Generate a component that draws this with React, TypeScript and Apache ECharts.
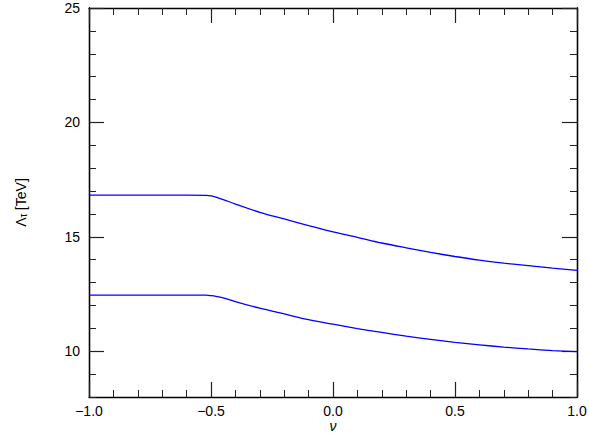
import React, { useEffect, useRef } from "react";
import * as echarts from "echarts";

const nu = [-1.0, -0.8, -0.6, -0.52, -0.5, -0.48, -0.45, -0.4, -0.3, -0.2, -0.1, 0.0, 0.1, 0.2, 0.3, 0.4, 0.5, 0.6, 0.7, 0.8, 0.9, 1.0];
const upper = [16.82, 16.82, 16.82, 16.81, 16.79, 16.74, 16.63, 16.43, 16.07, 15.78, 15.49, 15.22, 14.98, 14.73, 14.52, 14.32, 14.14, 13.98, 13.85, 13.74, 13.63, 13.53];
const lower = [12.45, 12.45, 12.45, 12.45, 12.43, 12.40, 12.33, 12.17, 11.88, 11.63, 11.38, 11.18, 10.99, 10.82, 10.66, 10.52, 10.39, 10.28, 10.18, 10.10, 10.03, 9.98];
const yMajorTicks = [10, 15, 20, 25];

const FONT = "Liberation Sans";

export default function App() {
  const ref = useRef<HTMLDivElement>(null);
  useEffect(() => {
    if (!ref.current) return;
    const chart = echarts.init(ref.current, null, { renderer: "svg" });
    const axisLine = { show: true, onZero: false, lineStyle: { color: "#000", width: 1.3 } };
    const xBase = {
      type: "value" as const,
      min: -1,
      max: 1,
      interval: 0.5,
      axisLine,
      splitLine: { show: false },
      axisTick: { show: true, inside: true, length: 15, lineStyle: { color: "#222", width: 1.2 } },
      minorTick: { show: true, splitNumber: 5, length: 7, lineStyle: { color: "#222", width: 1 } },
    };
    const yMinor = {
      type: "value" as const,
      min: 8,
      max: 25,
      interval: 1,
      axisLine,
      splitLine: { show: false },
      axisTick: { show: true, inside: true, length: 7, lineStyle: { color: "#222", width: 1 } },
    };
    const yMajor = {
      type: "value" as const,
      min: 8,
      max: 25,
      axisLine,
      splitLine: { show: false },
      axisTick: { show: true, inside: true, length: 15, customValues: yMajorTicks, lineStyle: { color: "#222", width: 1.2 } },
      axisLabel: { show: false },
    };
    chart.setOption({
      animation: false,
      backgroundColor: "#fff",
      grid: { left: 89, right: 12, top: 8, bottom: 39, outerBoundsMode: "none", containLabel: false },
      xAxis: [
        {
          ...xBase,
          position: "bottom",
          name: "ν",
          nameLocation: "middle",
          nameGap: 22,
          nameMoveOverlap: false,
          nameTextStyle: { fontFamily: FONT, fontSize: 14, fontStyle: "italic", color: "#000" },
          axisLabel: {
            show: true,
            margin: 7,
            fontFamily: FONT,
            fontSize: 14,
            color: "#000",
            formatter: (v: number) => v.toFixed(1).replace("-", "\u2212"),
          },
        },
        { ...xBase, position: "top", axisLabel: { show: false } },
      ],
      yAxis: [
        {
          ...yMinor,
          position: "left",
          name: "{a|Λ}{b|τ} {a|[TeV]}",
          nameLocation: "middle",
          nameGap: 61,
          nameRotate: 90,
          nameTextStyle: {
            color: "#000",
            rich: {
              a: { fontFamily: FONT, fontSize: 14, color: "#000" },
              b: { fontFamily: FONT, fontSize: 10, color: "#000", padding: [5, 0, 0, 0] },
            },
          },
          axisLabel: {
            show: true,
            margin: 9,
            fontFamily: FONT,
            fontSize: 14,
            color: "#000",
            formatter: (v: number) => (yMajorTicks.includes(v) ? String(v) : ""),
          },
        },
        { ...yMinor, position: "right", axisLabel: { show: false } },
        { ...yMajor, position: "left" },
        { ...yMajor, position: "right" },
      ],
      series: [
        {
          type: "line",
          data: nu.map((x, i) => [x, upper[i]]),
          showSymbol: false,
          smooth: 0.3,
          lineStyle: { color: "#0000ff", width: 1.3 },
          xAxisIndex: 0,
          yAxisIndex: 0,
        },
        {
          type: "line",
          data: nu.map((x, i) => [x, lower[i]]),
          showSymbol: false,
          smooth: 0.3,
          lineStyle: { color: "#0000ff", width: 1.3 },
          xAxisIndex: 0,
          yAxisIndex: 0,
        },
      ],
    });
    return () => chart.dispose();
  }, []);
  return <div ref={ref} style={{ width: 589, height: 436, position: "absolute", left: 0, top: 0 }} />;
}
